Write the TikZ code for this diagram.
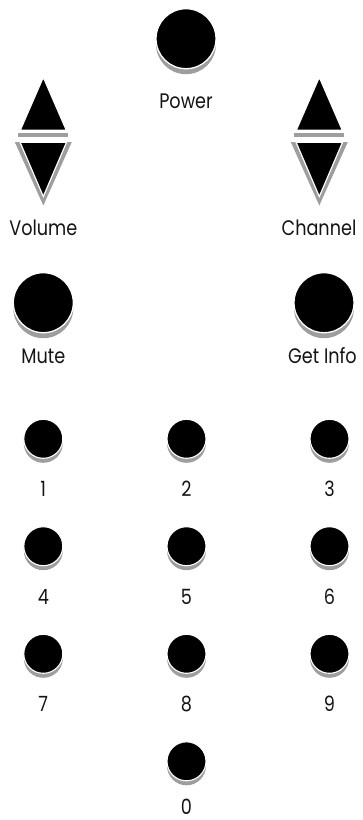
\documentclass[tikz,border=0pt]{standalone}
\usepackage{fontspec}
\setmainfont[FakeStretch=0.84]{Poppins}
\usetikzlibrary{shadows}
\tikzset{
  shadowgray/.style={fill=black!38},
  bigbtn/.style={circle,inner sep=0pt,minimum size=60pt,fill=black,draw=white,line width=1.3pt,
    drop shadow={shadow xshift=0pt,shadow yshift=-5.5pt,fill=black!38,opacity=1}},
  smallbtn/.style={circle,inner sep=0pt,minimum size=39pt,fill=black,draw=white,line width=1.1pt,
    drop shadow={shadow xshift=0pt,shadow yshift=-4.5pt,fill=black!38,opacity=1}},
  lbl/.style={anchor=base,inner sep=0pt,font=\fontsize{21}{22}\selectfont,text=black!92},
  tri/.style={fill=black,draw=white,line width=1.2pt,line join=miter}
}
\begin{document}
\begin{tikzpicture}[x=1pt,y=-1pt]
\useasboundingbox (0,0) rectangle (362,820);
% Power
\node[bigbtn] (power) at (186,38.7) {};
\node[lbl] (powerlbl) at (186,108) {Power};
% Volume / Channel up-down
\foreach \cx/\nm in {43.3/vol,319.3/chan}{
  \begin{scope}[xshift=\cx]
    \fill[shadowgray] (-25,133.3) rectangle (25,136.8);
    \filldraw[tri] (0,77.3) -- (-23,130.2) -- (23,130.2) -- cycle;
    \fill[shadowgray] (-28.5,142) -- (28.5,142) -- (0,205.5) -- cycle;
    \filldraw[tri] (-23.2,142.3) -- (23.2,142.3) -- (0,196.5) -- cycle;
  \end{scope}
}
\node[lbl] (vollbl) at (43.3,235) {Volume};
\node[lbl] (chanlbl) at (319,235) {Channel};
% Mute / Get Info
\node[bigbtn] (mute) at (43.3,302.7) {};
\node[lbl] (mutelbl) at (43.3,363) {Mute};
\node[bigbtn] (info) at (324,302.7) {};
\node[lbl] (infolbl) at (322.5,363) {Get Info};
% digits
\foreach \d/\x/\y/\b in {1/43.3/438.8/496.5, 2/186.5/438.8/496.5, 3/329.5/438.8/496.5,
                         4/43.3/546.2/604.5, 5/186.5/546.2/604.5, 6/329.5/546.2/604.5,
                         7/43.3/653.8/711.7, 8/186.5/653.8/711.7, 9/329.5/653.8/711.7,
                         0/186.5/761.3/814}{
  \node[smallbtn] (b\d) at (\x,\y) {};
  \node[lbl] (l\d) at (\x,\b) {\d};
}
\end{tikzpicture}
\end{document}
